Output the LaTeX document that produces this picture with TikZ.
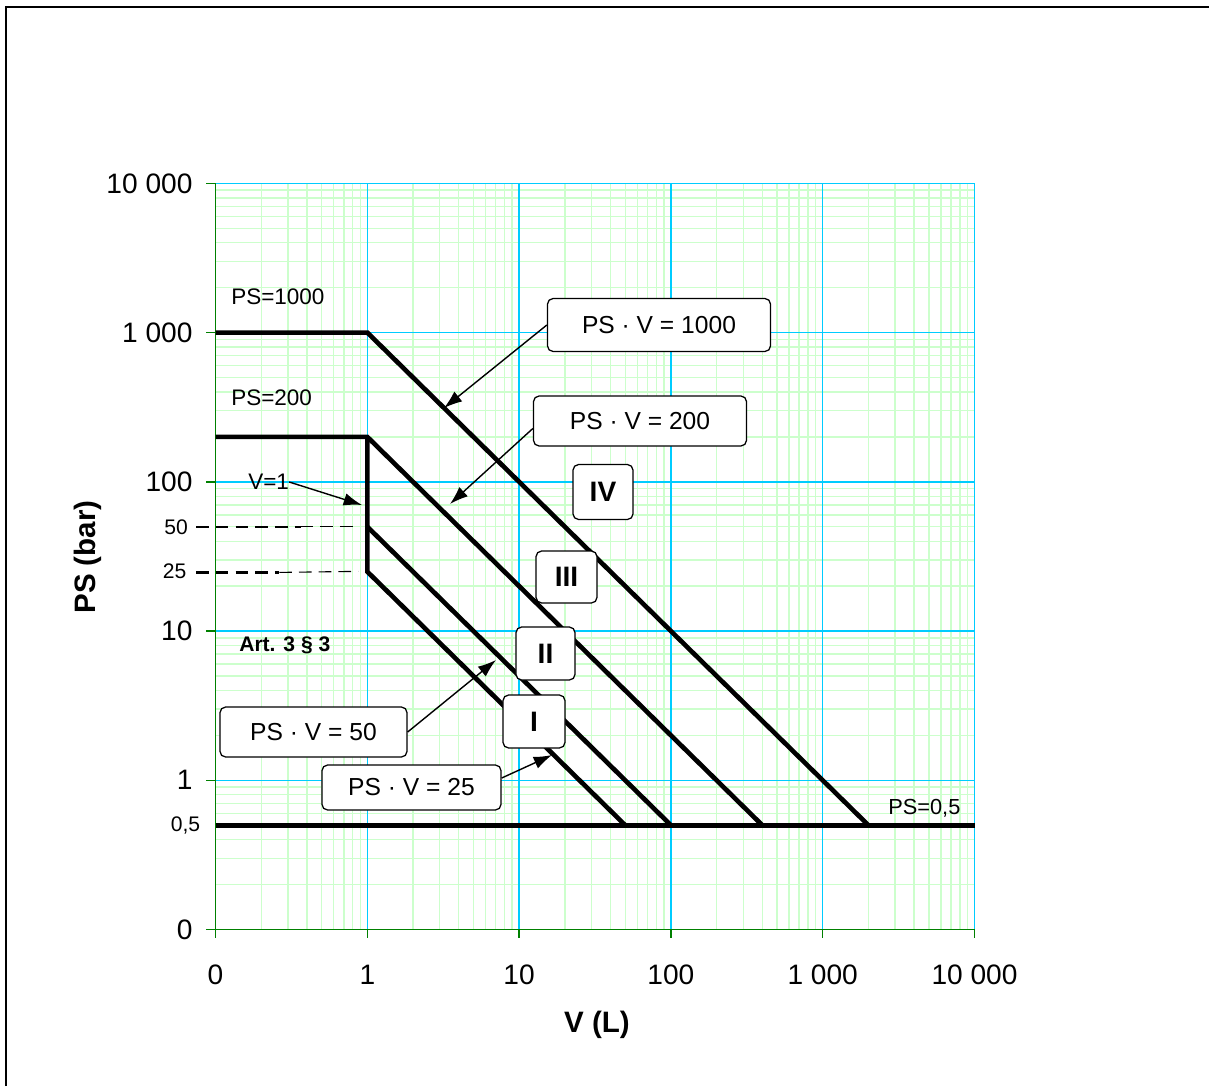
\documentclass[tikz,border=0pt]{standalone}
\usepackage{fontspec}
\setmainfont{Liberation Sans}
\usetikzlibrary{arrows.meta}
\definecolor{majorgrid}{RGB}{0,204,255}
\definecolor{minorgrid}{RGB}{204,255,204}
\definecolor{axisgreen}{RGB}{0,128,0}
\newcommand{\fsz}[1]{\fontsize{#1}{#1}\selectfont}
\tikzset{
  limit/.style={line width=3.3pt},
  guide/.style={dashed, dash pattern=on 9pt off 5pt},
  pointer/.style={-{Latex[length=13pt, width=9pt]}, line width=1pt},
  tag/.style={draw, fill=white, rounded corners=4pt, line width=0.9pt, inner sep=0pt},
  note/.style={inner sep=0pt, font=\fsz{16}},
}
\begin{document}
\begin{tikzpicture}[x=0.025cm, y=-0.025cm]
  \useasboundingbox (0,0) rectangle (1209,1086);
  \draw[line width=1.4pt] (6,1086) -- (6,7) -- (1209,7);
  \begin{scope}[shift={(5.3875cm,-23.2325cm)}, x=3.79375cm, y=3.73cm]
    \foreach \d in {0,...,4}
      \foreach \m in {2,...,9} {
        \draw[minorgrid, line width=1pt] ({\d+log10(\m)},0) -- ({\d+log10(\m)},5);
        \draw[minorgrid, line width=1pt] (0,{\d+log10(\m)}) -- (5,{\d+log10(\m)});
      }
    \foreach \d in {1,...,5} {
      \draw[majorgrid, line width=1pt] (\d,0) -- (\d,5);
      \draw[majorgrid, line width=1pt] (0,\d) -- (5,\d);
    }
    \draw[axisgreen, line width=1pt] (0,5) -- (0,0) -- (5,0);
    \foreach \d in {0,...,5} {
      \draw[axisgreen, line width=1pt] (\d,0) -- (\d,-0.055);
      \draw[axisgreen, line width=1pt] (0,\d) -- (-0.066,\d);
    }
    \node[anchor=east, inner sep=0pt, font=\fsz{20}] (y0) at (-0.15,0) {0};
    \node[anchor=east, inner sep=0pt, font=\fsz{20}] (y1) at (-0.15,1) {1};
    \node[anchor=east, inner sep=0pt, font=\fsz{20}] (y2) at (-0.15,2) {10};
    \node[anchor=east, inner sep=0pt, font=\fsz{20}] (y3) at (-0.15,3) {100};
    \node[anchor=east, inner sep=0pt, font=\fsz{20}] (y4) at (-0.15,4) {1 000};
    \node[anchor=east, inner sep=0pt, font=\fsz{20}] (y5) at (-0.15,5) {10 000};
    \node[anchor=east, inner sep=0pt, font=\fsz{15}] (y50) at (-0.18,2.69897) {50};
    \node[anchor=east, inner sep=0pt, font=\fsz{15}] (y25) at (-0.19,2.39794) {25};
    \node[anchor=east, inner sep=0pt, font=\fsz{15}] (y05) at (-0.10,0.69897) {0,5};
    \node[font=\fsz{20}] (x0) at (0,-0.3) {0};
    \node[font=\fsz{20}] (x1) at (1,-0.3) {1};
    \node[font=\fsz{20}] (x2) at (2,-0.3) {10};
    \node[font=\fsz{20}] (x3) at (3,-0.3) {100};
    \node[font=\fsz{20}] (x4) at (4,-0.3) {1 000};
    \node[font=\fsz{20}] (x5) at (5,-0.3) {10 000};
    \coordinate (a1000) at (0,4);
    \coordinate (b1000) at (1,4);
    \coordinate (c1000) at (4.30103,0.69897);
    \coordinate (a200) at (0,3.30103);
    \coordinate (b200) at (1,3.30103);
    \coordinate (c200) at (3.60206,0.69897);
    \coordinate (b50) at (1,2.69897);
    \coordinate (c50) at (3,0.69897);
    \coordinate (b25) at (1,2.39794);
    \coordinate (c25) at (2.69897,0.69897);
    \coordinate (a05) at (0,0.69897);
    \coordinate (c05) at (5,0.69897);
    \draw[guide, line width=1.6pt] (-0.128,2.69897) -- (0.56,2.69897);
    \draw[guide, line width=0.8pt] (0.56,2.69897) -- (0.94,2.69897);
    \draw[guide, line width=1.6pt] (-0.128,2.393) -- (0.42,2.393);
    \draw[guide, line width=0.8pt] (0.42,2.393) -- (0.94,2.40);
    \draw[limit] (a1000) -- (b1000) -- (c1000);
    \draw[limit] (a200) -- (b200) -- (c200);
    \draw[limit] (b200) -- (b25) -- (c25);
    \draw[limit] (b50) -- (c50);
    \draw[limit] (a05) -- (c05);
  \end{scope}
  \node[font=\bfseries\fsz{21}] (xlab) at (597,1025) {V (L)};
  \node[font=\bfseries\fsz{21}, rotate=90] (ylab) at (88,557) {PS (bar)};
  \node[note, anchor=west] (ps1000) at (231,297) {PS=1000};
  \node[note, anchor=west] (ps200) at (231,398) {PS=200};
  \node[note, anchor=west] (v1) at (248,482) {V=1};
  \node[note, anchor=west, font=\bfseries\fsz{15}] (art) at (239,645) {Art. 3 § 3};
  \node[note, anchor=west, font=\fsz{15.5}] (ps05) at (888,808) {PS=0,5};
  \node[tag, minimum width=5.575cm, minimum height=1.325cm, font=\fsz{17.5}] (box1000) at (659,325) {PS · V = 1000};
  \node[tag, minimum width=5.325cm, minimum height=1.25cm, font=\fsz{17.5}] (box200) at (640,421) {PS · V = 200};
  \node[tag, minimum width=4.675cm, minimum height=1.25cm, font=\fsz{17.5}] (box50) at (313.5,732) {PS · V = 50};
  \node[tag, minimum width=4.475cm, minimum height=1.125cm, font=\fsz{17.5}] (box25) at (411.5,787.5) {PS · V = 25};
  \node[tag, minimum width=1.5cm, minimum height=1.375cm, font=\bfseries\fsz{20}] (cat4) at (603,492) {IV};
  \node[tag, minimum width=1.525cm, minimum height=1.3cm, font=\bfseries\fsz{20}] (cat3) at (566.5,577) {III};
  \node[tag, minimum width=1.475cm, minimum height=1.325cm, font=\bfseries\fsz{20}] (cat2) at (545.5,653.5) {II};
  \node[tag, minimum width=1.55cm, minimum height=1.325cm, font=\bfseries\fsz{20}] (cat1) at (534,721.5) {I};
  \coordinate (tip1000) at (444,408);
  \coordinate (tip200) at (450,504);
  \coordinate (tip50) at (496,660);
  \coordinate (tip25) at (552,755);
  \coordinate (tipv) at (362,505);
  \draw[pointer] (box1000.west) -- (tip1000);
  \draw[pointer] (box200.184) -- (tip200);
  \draw[pointer] (box50.east) -- (tip50);
  \draw[pointer] (box25.6) -- (tip25);
  \draw[pointer] (v1.east) -- (tipv);
\end{tikzpicture}
\end{document}
